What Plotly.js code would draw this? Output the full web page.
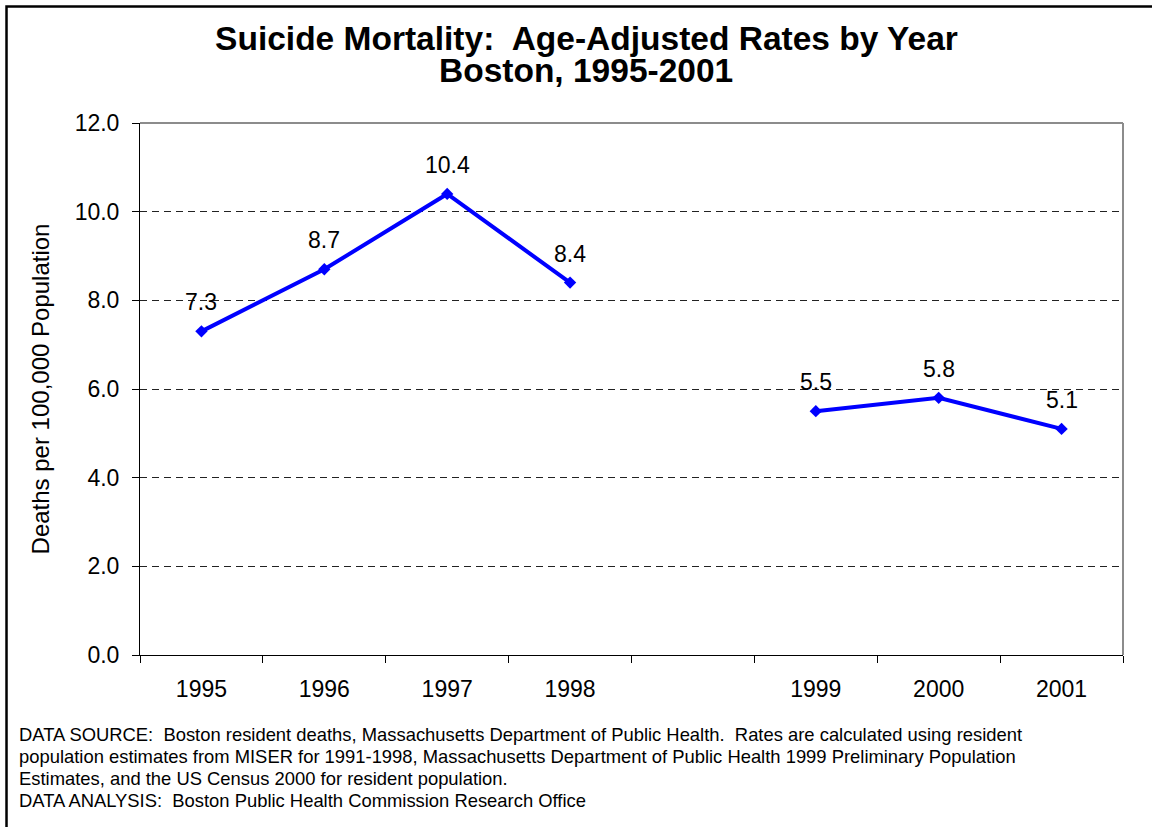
<!DOCTYPE html>
<html>
<head>
<meta charset="utf-8">
<script src="https://cdn.plot.ly/plotly-3.0.1.min.js"></script>
<style>
html,body{margin:0;padding:0;background:#fff;}
#chart{width:1152px;height:827px;}
</style>
</head>
<body>
<div id="chart"></div>
<script>
// Data
const categories = ["1995", "1996", "1997", "1998", " ", "1999", "2000", "2001"];
const rates = [7.3, 8.7, 10.4, 8.4, null, 5.5, 5.8, 5.1];
const yTicks = [0, 2, 4, 6, 8, 10, 12];

const titleLine1 = "Suicide Mortality:\u00a0 Age-Adjusted Rates by Year";
const titleLine2 = "Boston, 1995-2001";
const yTitle = "Deaths per 100,000 Population";
const footnoteLines = [
  "DATA SOURCE:\u00a0 Boston resident deaths, Massachusetts Department of Public Health.\u00a0 Rates are calculated using resident",
  "population estimates from MISER for 1991-1998, Massachusetts Department of Public Health 1999 Preliminary Population",
  "Estimates, and the US Census 2000 for resident population.",
  "DATA ANALYSIS:\u00a0 Boston Public Health Commission Research Office"
];

const FONT = 'Arial, "Liberation Sans", sans-serif';
const PLOT_H = 827 - 123 - 172; // plot area height in px

const trace = {
  type: "scatter",
  mode: "lines+markers",
  x: categories,
  y: rates,
  connectgaps: false,
  line: {color: "#0000FF", width: 4},
  marker: {symbol: "diamond", size: 9.5, color: "#0000FF"},
  hoverinfo: "x+y",
  showlegend: false
};

const labelAnnotations = [];
categories.forEach((c, i) => {
  if (rates[i] === null) return;
  labelAnnotations.push({
    x: i, y: rates[i], xref: "x", yref: "y",
    text: rates[i].toFixed(1),
    showarrow: false,
    xanchor: "center", yanchor: "bottom",
    yshift: 14,
    font: {family: FONT, size: 23, color: "#000"}
  });
});

const footnoteAnnotations = footnoteLines.map((line, i) => ({
  xref: "paper", yref: "paper",
  x: -0.1251, y: -(67 + 22 * i) / PLOT_H,
  xanchor: "left", yanchor: "top", align: "left",
  showarrow: false,
  text: line,
  font: {family: FONT, size: 18.4, color: "#000"}
}));

const subtitle = {
  xref: "paper", yref: "paper",
  x: 0.4537, y: 1.0602,
  xanchor: "center", yanchor: "bottom",
  showarrow: false,
  text: titleLine2,
  font: {family: FONT, size: 33.5, color: "#000", weight: "bold"}
};

const layout = {
  width: 1152, height: 827,
  margin: {l: 140, r: 29, t: 123, b: 172},
  paper_bgcolor: "#fff",
  plot_bgcolor: "#fff",
  font: {family: FONT, color: "#000"},
  title: {
    text: titleLine1,
    font: {family: FONT, size: 33.5, color: "#000", weight: "bold"},
    x: 0.5091, xanchor: "center", xref: "container",
    y: 0.9685, yanchor: "top", yref: "container"
  },
  xaxis: {
    type: "category",
    categoryorder: "array",
    categoryarray: categories,
    range: [-0.5, 7.5],
    showline: true, linecolor: "#000", linewidth: 1,
    ticks: "outside", ticklen: 7, tickcolor: "#000", tickwidth: 1,
    tickson: "boundaries",
    showgrid: false, zeroline: false,
    tickfont: {family: FONT, size: 23, color: "#000"},
    ticklabelstandoff: 13,
    fixedrange: true
  },
  yaxis: {
    range: [0, 12],
    tickvals: yTicks,
    tickformat: ".1f",
    showline: true, linecolor: "#000", linewidth: 1,
    ticks: "outside", ticklen: 7, tickcolor: "#000", tickwidth: 1,
    showgrid: true, gridcolor: "#222", gridwidth: 1, griddash: "7px,5px",
    zeroline: false,
    tickfont: {family: FONT, size: 23, color: "#000"},
    ticklabelstandoff: 8,
    title: {text: yTitle, font: {family: FONT, size: 24, color: "#000"}, standoff: 18},
    fixedrange: true
  },
  shapes: [
    {type: "line", xref: "paper", yref: "paper", x0: 0, x1: 1, y0: 1, y1: 1,
     line: {color: "#8c8c8c", width: 2}},
    {type: "line", xref: "paper", yref: "paper", x0: 1, x1: 1, y0: 0, y1: 1,
     line: {color: "#8c8c8c", width: 2}},
    {type: "rect", xref: "paper", yref: "paper",
     x0: -0.1358, x1: 1.04, y0: -0.36, y1: 1.219,
     line: {color: "#000", width: 2.5}, fillcolor: "rgba(0,0,0,0)"}
  ],
  annotations: labelAnnotations.concat([subtitle], footnoteAnnotations)
};

Plotly.newPlot("chart", [trace], layout, {displayModeBar: false, staticPlot: true});
</script>
</body>
</html>
